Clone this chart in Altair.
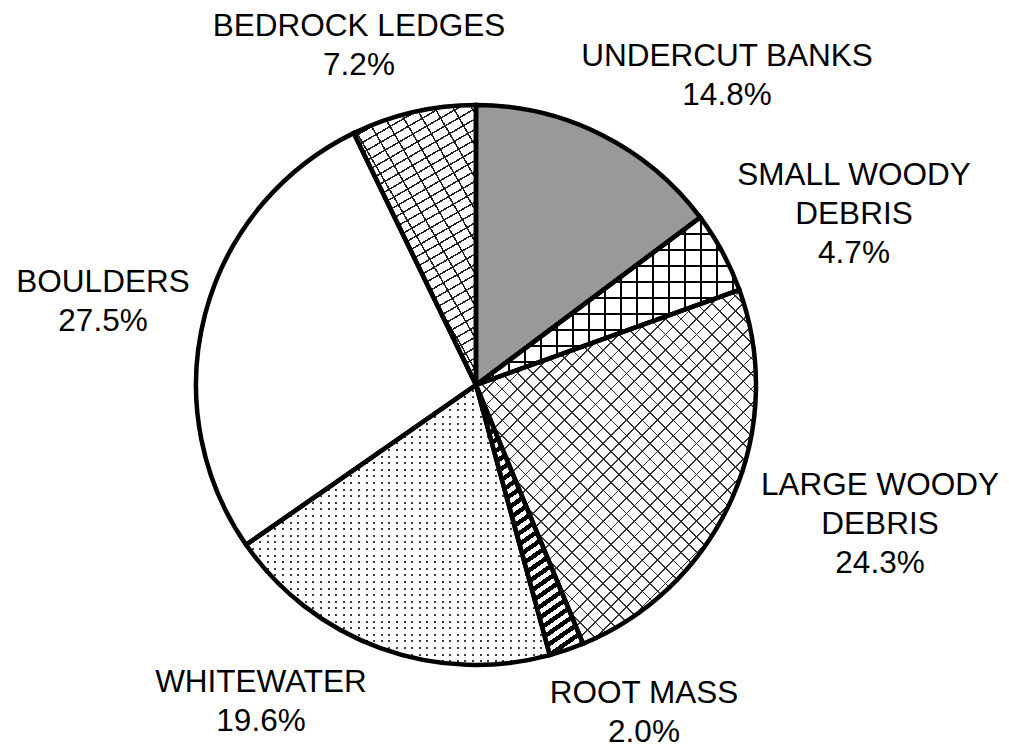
import math
import pandas as pd
import altair as alt

# ---------------- data ----------------
CATEGORIES = ["UNDERCUT BANKS", "SMALL WOODY DEBRIS", "LARGE WOODY DEBRIS",
              "ROOT MASS", "WHITEWATER", "BOULDERS", "BEDROCK LEDGES"]
VALUES = [14.8, 4.7, 24.3, 2.0, 19.6, 27.5, 7.2]
LABEL_LINES = [["UNDERCUT BANKS"], ["SMALL WOODY", "DEBRIS"], ["LARGE WOODY", "DEBRIS"],
               ["ROOT MASS"], ["WHITEWATER"], ["BOULDERS"], ["BEDROCK LEDGES"]]

# ---------------- layout ----------------
CX, CY, R = 476, 385, 280
LABEL_ANCHORS = [(727, 65.5), (854, 185), (880, 495), (644, 703),
                 (261, 692), (103, 292), (359, 36)]
FONT = "Liberation Sans"
FONT_SIZE = 31.5
LINE_H = 39

TOTAL = sum(VALUES)
df = pd.DataFrame({"category": CATEGORIES, "value": VALUES, "idx": list(range(len(VALUES)))})

# geometry helper for gradient bounding boxes (pattern styling only)
def wedge_bbox(k):
    s = sum(VALUES[:k]) / TOTAL * 360
    e = sum(VALUES[:k + 1]) / TOTAL * 360
    angs = [s, e] + [a for a in (0, 90, 180, 270, 360) if s < a < e]
    pts = [(0.0, 0.0)] + [(R * math.sin(math.radians(a)), -R * math.cos(math.radians(a))) for a in angs]
    xs = [p[0] for p in pts]
    ys = [p[1] for p in pts]
    return max(xs) - min(xs), max(ys) - min(ys)


TRANSP = "rgba(255,255,255,0)"


def stripes(k, phi, period, width, color, bg=TRANSP):
    W, H = wedge_bbox(k)
    nx, ny = math.cos(math.radians(phi)), math.sin(math.radians(phi))
    L = abs(nx) * W + abs(ny) * H
    gx, gy = nx * W / L, ny * H / L
    g2 = gx * gx + gy * gy
    dx, dy = gx / g2, gy / g2
    u0 = 0.0 if nx >= 0 else 1.0
    v0 = 0.0 if ny >= 0 else 1.0
    n = L / period
    stops = []
    i = 0
    while i / n < 1:
        o0 = i / n
        o1 = min((i + width / period) / n, 1.0)
        o2 = min((i + 1) / n, 1.0)
        stops += [alt.GradientStop(offset=o0, color=color), alt.GradientStop(offset=o1, color=color),
                  alt.GradientStop(offset=o1, color=bg), alt.GradientStop(offset=o2, color=bg)]
        i += 1
    return alt.LinearGradient(gradient="linear", stops=stops,
                              x1=u0, y1=v0, x2=u0 + dx, y2=v0 + dy)


# fill layers for each slice (bottom to top)
FILLS = [
    ["#999999"],
    ["white", stripes(1, 0, 16, 2, "black"), stripes(1, 90, 16, 2, "black")],
    ["white", stripes(2, 45, 11, 1.2, "#333333"), stripes(2, -45, 11, 1.2, "#333333")],
    ["white", stripes(3, 55, 9, 4.5, "black")],
    ["#3a3a3a", stripes(4, 0, 7.6, 5.6, "white"), stripes(4, 90, 6.6, 4.6, "white")],
    ["white"],
    ["white", stripes(6, 60, 9, 1.5, "#222222"), stripes(6, -30, 16, 1.5, "#222222")],
]

base = alt.Chart(df).transform_window(
    cum="sum(value)", sort=[alt.SortField("idx")]
).transform_calculate(start="datum.cum - datum.value")

enc = dict(
    theta=alt.Theta("start:Q", scale=alt.Scale(domain=[0, TOTAL], range=[0, 2 * math.pi])),
    theta2=alt.Theta2("cum:Q"),
    x=alt.value(CX),
    y=alt.value(CY),
)

layers = []
for k, fills in enumerate(FILLS):
    for f in fills:
        layers.append(base.transform_filter(alt.datum.idx == k)
                      .mark_arc(radius=R, fill=f, strokeWidth=0).encode(**enc))

layers.append(base.mark_arc(radius=R, fillOpacity=0, stroke="black", strokeWidth=4.5).encode(**enc))

for k, lines in enumerate(LABEL_LINES):
    txt = lines + [f"{VALUES[k]:.1f}%"]
    lx, ly = LABEL_ANCHORS[k]
    layers.append(alt.Chart(df).transform_filter(alt.datum.idx == k).mark_text(
        text=txt, font=FONT, fontSize=FONT_SIZE, lineHeight=LINE_H, align="center",
        baseline="alphabetic", color="black").encode(x=alt.value(lx), y=alt.value(ly)))

chart = alt.layer(*layers).properties(
    width=1009, height=751, autosize=alt.AutoSizeParams(type="none"), padding=0,
    background="white"
).configure_view(stroke=None)

chart.save("out.html", embed_options={"renderer": "svg", "actions": False})
